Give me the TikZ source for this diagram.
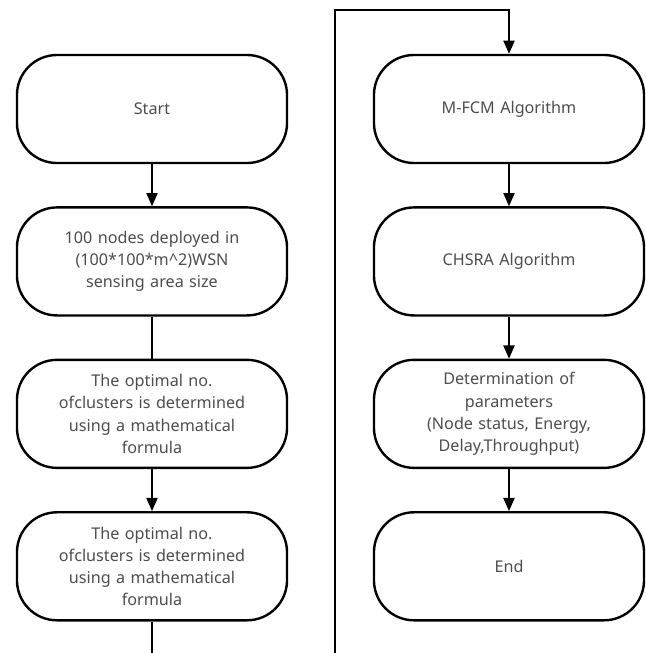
\documentclass[tikz,border=0pt]{standalone}
\usepackage{fontspec}
\setmainfont{Noto Sans}
\usetikzlibrary{positioning, arrows.meta}

\definecolor{textgrey}{HTML}{4D4D4D}

\tikzset{
	stage/.style = {draw, line width = 1.7pt, rounded corners = 1cm, minimum width = 6.75cm, minimum height = 2.7cm, text width = 6.2cm, align = center, text = textgrey, font = \fontsize{11.5}{15.8}\selectfont},
	flow/.style = {line width = 1.1pt}
}

\begin{document}
\begin{tikzpicture}[x = 0.025cm, y = -0.025cm, > = {Triangle[length = 0.33cm, width = 0.28cm]}, node distance = 1.05cm]

	\useasboundingbox (0, 0) rectangle (646, 653);

	% Left column of stages

	\node [stage] (start) at (152, 109) {Start};
	\node [stage, below = of start] (deploy) {100 nodes deployed in\\(100*100*m\textasciicircum 2)WSN\\sensing area size};
	\node [stage, below = of deploy] (optimalA) {The optimal no.\\ofclusters is determined\\using a mathematical\\formula};
	\node [stage, below = of optimalA] (optimalB) {The optimal no.\\ofclusters is determined\\using a mathematical\\formula};

	% Right column of stages

	\node [stage] (mfcm) at (509, 109) {M-FCM Algorithm};
	\node [stage, below = of mfcm] (chsra) {CHSRA Algorithm};
	\node [stage, below = of chsra] (params) {Determination of\\parameters\\(Node status, Energy,\\Delay,Throughput)};
	\node [stage, below = of params] (finish) {End};

	% Free ends of the link between the columns

	\coordinate (lowL) at (152, 653);
	\coordinate (lowR) at (335, 653);
	\coordinate (topR) at (335, 10);

	% Connectors

	\begin{scope}[flow]

		\draw [->] (start) -- (deploy);
		\draw (deploy) -- (optimalA);
		\draw [->] (optimalA) -- (optimalB);
		\draw (optimalB) -- (lowL);

		\draw [->] (lowR) -- (topR) -| (mfcm);
		\draw [->] (mfcm) -- (chsra);
		\draw [->] (chsra) -- (params);
		\draw [->] (params) -- (finish);

	\end{scope}

\end{tikzpicture}
\end{document}
